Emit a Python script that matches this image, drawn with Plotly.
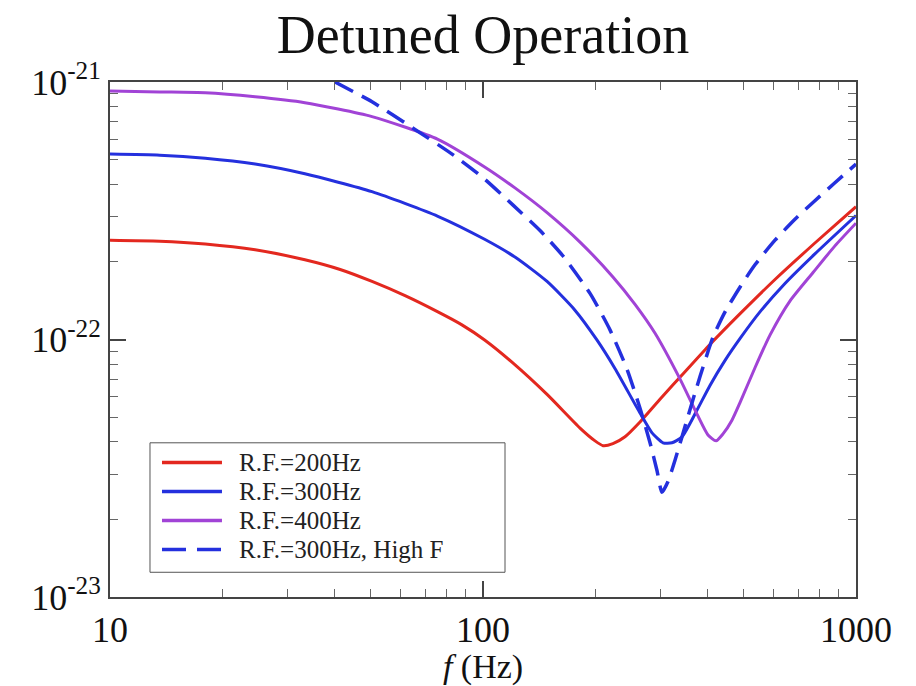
import plotly.graph_objects as go

# Frequencies (Hz) and noise values
f_200 = [10, 13.6, 18.0, 24.5, 33.3, 41.4, 50.4, 61.8, 75.7, 87.8, 101, 120, 148.5, 182, 199.7,
         209.8, 223, 240.3, 263.6, 298.2, 348, 406, 489, 606.5, 776, 1000]
h_200 = [2.43e-22, 2.41e-22, 2.35e-22, 2.23e-22, 2.04e-22, 1.87e-22, 1.68e-22, 1.48e-22, 1.28e-22,
         1.14e-22, 9.96e-23, 8.13e-23, 6.12e-23, 4.53e-23, 4.04e-23, 3.87e-23, 3.94e-23, 4.19e-23,
         4.78e-23, 5.86e-23, 7.50e-23, 9.57e-23, 1.26e-22, 1.71e-22, 2.37e-22, 3.28e-22]

f_300 = [10, 13.6, 18.0, 24.5, 33.3, 50.4, 75.7, 101, 121.8, 148.5, 176.4, 202, 226, 263.6, 283.9,
         303.8, 321, 341.6, 374.8, 406, 445.6, 489, 552.7, 645, 776, 1000]
h_300 = [5.25e-22, 5.20e-22, 5.06e-22, 4.80e-22, 4.40e-22, 3.75e-22, 3.01e-22, 2.45e-22, 2.09e-22,
         1.68e-22, 1.30e-22, 9.96e-23, 7.70e-23, 5.18e-23, 4.34e-23, 3.97e-23, 3.97e-23, 4.19e-23,
         5.32e-23, 6.63e-23, 8.30e-23, 1.01e-22, 1.28e-22, 1.65e-22, 2.15e-22, 3.03e-22]

f_400 = [10, 13.6, 18.0, 24.5, 33.3, 50.4, 75.7, 101, 121.8, 148.5, 182, 223, 255.6, 289, 337,
         374.8, 401, 421.5, 440, 465, 489, 536, 588, 665, 767, 878, 1000]
h_400 = [9.23e-22, 9.15e-22, 9.08e-22, 8.76e-22, 8.31e-22, 7.34e-22, 5.99e-22, 4.68e-22, 3.88e-22,
         3.11e-22, 2.39e-22, 1.75e-22, 1.37e-22, 1.06e-22, 7.05e-23, 5.13e-23, 4.26e-23, 4.04e-23,
         4.30e-23, 4.86e-23, 5.70e-23, 7.77e-23, 1.04e-22, 1.41e-22, 1.82e-22, 2.31e-22, 2.83e-22]

f_300h = [40.1, 50.4, 64.5, 82.6, 99.4, 120, 142.2, 163.9, 193.6, 219, 243, 263.6, 280.4, 292.7,
          301.9, 313.3, 327, 352, 381.8, 413.6, 445.6, 489, 536, 606.5, 686, 776, 878, 1000]
h_300h = [1.0e-21, 8.38e-22, 6.66e-22, 5.25e-22, 4.28e-22, 3.34e-22, 2.65e-22, 2.11e-22, 1.51e-22,
          1.09e-22, 7.70e-23, 5.41e-23, 3.97e-23, 3.10e-23, 2.55e-23, 2.81e-23, 3.39e-23, 4.86e-23,
          7.18e-23, 1.02e-22, 1.28e-22, 1.60e-22, 1.95e-22, 2.43e-22, 2.93e-22, 3.46e-22, 4.06e-22,
          4.80e-22]

names = ["R.F.=200Hz", "R.F.=300Hz", "R.F.=400Hz", "R.F.=300Hz, High F"]
colors = ["#e3281f", "#2430de", "#a143d6", "#2430de"]
dashes = ["solid", "solid", "solid", "20px,10px"]
widths = [3, 3, 3, 3.5]

y_tickvals = [1e-23, 1e-22, 1e-21]
y_ticktext = ["10<sup>-23</sup>", "10<sup>-22</sup>", "10<sup>-21</sup>"]
x_tickvals = [10, 100, 1000]
x_ticktext = ["10", "100", "1000"]

FONT = "Liberation Serif, Times New Roman, serif"

fig = go.Figure()
for fx, hy, nm, c, d, w in zip([f_200, f_300, f_400, f_300h], [h_200, h_300, h_400, h_300h],
                               names, colors, dashes, widths):
    fig.add_trace(go.Scatter(x=fx, y=hy, mode="lines", name=nm, showlegend=False,
                             line=dict(color=c, width=w, dash=d, shape="spline", smoothing=0.6)))

axis_common = dict(type="log", showgrid=False, zeroline=False, showline=True, linecolor="#444",
                   linewidth=2, mirror="ticks", ticks="inside", ticklen=16, tickwidth=1.5,
                   tickcolor="#444",
                   minor=dict(ticks="inside", ticklen=8, tickwidth=1, tickcolor="#666",
                              dtick="D1", showgrid=False),
                   tickfont=dict(family=FONT, size=36, color="#111"))

fig.update_xaxes(range=[1, 3], tickvals=x_tickvals, ticktext=x_ticktext,
                 title=dict(text="<i>f</i> (Hz)", font=dict(family=FONT, size=34, color="#111"), standoff=0),
                 **axis_common)
fig.update_yaxes(range=[-23, -21], tickvals=y_tickvals, ticktext=y_ticktext, **axis_common)

# Legend box drawn in paper coordinates (tight row spacing like the reference)
box_x0, box_x1, box_y0, box_y1 = 0.0536, 0.5295, 0.048, 0.2994
row_y = [0.2610, 0.2047, 0.1484, 0.0921]
sample_x0, sample_x1, text_x = 0.0697, 0.1501, 0.1702

shapes = [dict(type="rect", xref="paper", yref="paper", x0=box_x0, x1=box_x1, y0=box_y0, y1=box_y1,
               line=dict(color="#555", width=1), fillcolor="white", layer="above")]
annotations = []
for nm, c, d, yy in zip(names, colors, dashes, row_y):
    shapes.append(dict(type="line", xref="paper", yref="paper", x0=sample_x0, x1=sample_x1, y0=yy, y1=yy,
                       line=dict(color=c, width=3.5, dash=("solid" if d == "solid" else "24px,11px")),
                       layer="above"))
    annotations.append(dict(text=nm, xref="paper", yref="paper", x=text_x, y=yy, xanchor="left",
                            yanchor="middle", showarrow=False,
                            font=dict(family=FONT, size=25, color="#222")))

fig.update_layout(
    width=916, height=686,
    margin=dict(l=110, r=60, t=82, b=83),
    paper_bgcolor="white", plot_bgcolor="white",
    title=dict(text="Detuned Operation", x=0.5, xref="paper", xanchor="center",
               y=0.95, yref="container", yanchor="middle",
               font=dict(family=FONT, size=54, color="#111")),
    shapes=shapes, annotations=annotations,
    showlegend=False,
)

fig.write_html("out.html")
